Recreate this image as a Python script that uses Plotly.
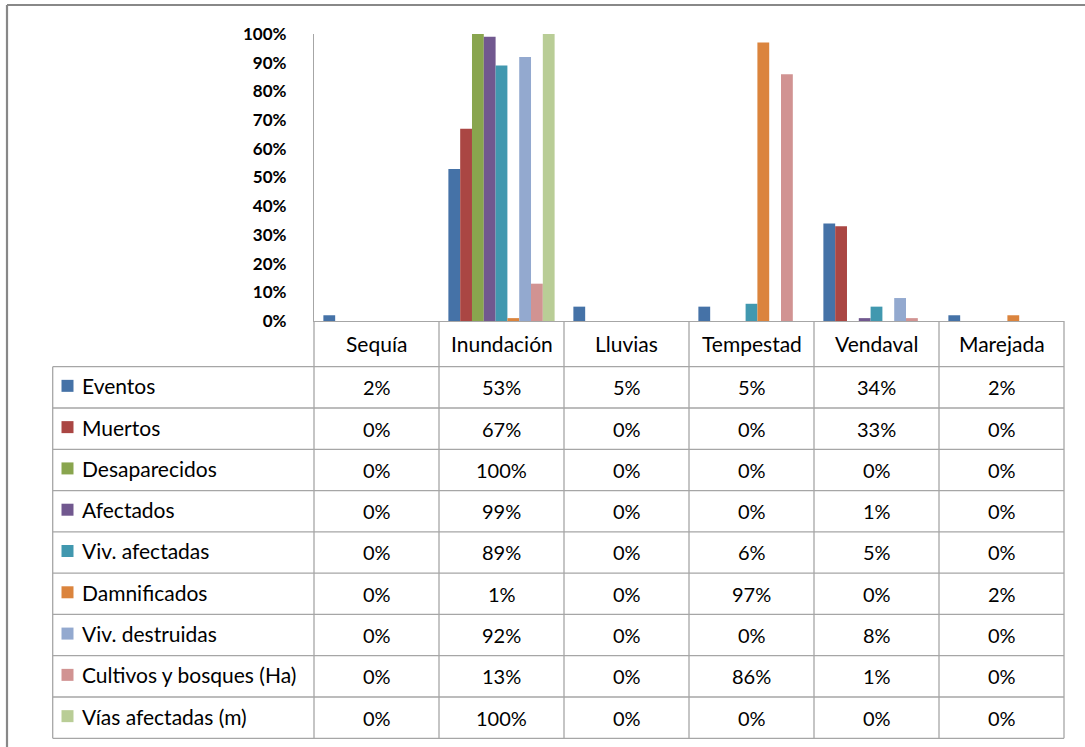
import plotly.graph_objects as go

# Categories (disaster types) and series (impact indicators), values in percent
categories = ["Sequía", "Inundación", "Lluvias", "Tempestad", "Vendaval", "Marejada"]
series_names = [
    "Eventos", "Muertos", "Desaparecidos", "Afectados", "Viv. afectadas",
    "Damnificados", "Viv. destruidas", "Cultivos y bosques (Ha)", "Vías afectadas (m)",
]
eventos       = [2, 53, 5, 5, 34, 2]
muertos       = [0, 67, 0, 0, 33, 0]
desaparecidos = [0, 100, 0, 0, 0, 0]
afectados     = [0, 99, 0, 0, 1, 0]
viv_afectadas = [0, 89, 0, 6, 5, 0]
damnificados  = [0, 1, 0, 97, 0, 2]
viv_destruidas = [0, 92, 0, 0, 8, 0]
cultivos      = [0, 13, 0, 86, 1, 0]
vias          = [0, 100, 0, 0, 0, 0]
series_values = [eventos, muertos, desaparecidos, afectados, viv_afectadas,
                 damnificados, viv_destruidas, cultivos, vias]
colors = ["#4572A7", "#AA4643", "#89A54E", "#71588F", "#4198AF",
          "#DB843D", "#93A9CF", "#D19392", "#B9CD96"]

W, H = 1085, 747
PL, PR, PT, PB = 314, 1064, 34, 321   # plot area in pixels
FONT = "Lato"
GRID = "#A6A6A6"
TXT = 20


def px_x(px):
    return (px - PL) / (PR - PL)


def px_y(py):
    return (PB - py) / (PB - PT)


fig = go.Figure()
for name, vals, col in zip(series_names, series_values, colors):
    fig.add_trace(go.Bar(x=categories, y=vals, name=name, marker_color=col,
                         marker_line_width=0, showlegend=False))

shapes = []
annotations = []

# data table geometry
header_top, header_bot = PB, 366.7
row_h = (738.3 - header_bot) / len(series_names)
table_left = 52.7
col_w = (PR - PL) / len(categories)

def line(x0, y0, x1, y1, color=GRID, width=1.3):
    shapes.append(dict(type="line", xref="paper", yref="paper",
                       x0=px_x(x0), y0=px_y(y0), x1=px_x(x1), y1=px_y(y1),
                       line=dict(color=color, width=width)))

# horizontal rules
for i in range(len(series_names) + 1):
    y = header_bot + i * row_h
    line(table_left, y, PR, y)
# vertical rules
line(table_left, header_bot, table_left, header_bot + len(series_names) * row_h)
for j in range(len(categories) + 1):
    x = PL + j * col_w
    line(x, header_top, x, header_bot + len(series_names) * row_h)

# header labels
for j, cat in enumerate(categories):
    annotations.append(dict(xref="x", yref="paper", x=cat,
                            y=px_y((header_top + header_bot) / 2),
                            text=cat, showarrow=False, xanchor="center", yanchor="middle",
                            font=dict(family=FONT, size=TXT + 1, color="#000000")))

# rows: legend key, series name, values
for i, (name, vals, col) in enumerate(zip(series_names, series_values, colors)):
    cy = header_bot + i * row_h + row_h / 2 - 1.5
    shapes.append(dict(type="rect", xref="paper", yref="paper",
                       x0=px_x(61.5), x1=px_x(73.5), y0=px_y(cy + 6), y1=px_y(cy - 6),
                       fillcolor=col, line=dict(width=0)))
    annotations.append(dict(xref="paper", yref="paper", x=px_x(80), y=px_y(cy),
                            text=name, showarrow=False, xanchor="left", yanchor="middle",
                            font=dict(family=FONT, size=TXT + 1, color="#000000")))
    for cat, v in zip(categories, vals):
        annotations.append(dict(xref="x", yref="paper", x=cat, y=px_y(cy + 1.5),
                                text=f"{v}%", showarrow=False, xanchor="center",
                                yanchor="middle",
                                font=dict(family=FONT, size=TXT, color="#000000")))

# outer chart frame
shapes.append(dict(type="line", xref="paper", yref="paper",
                   x0=px_x(7), x1=px_x(W), y0=px_y(5), y1=px_y(5),
                   line=dict(color="#888888", width=2.2)))
shapes.append(dict(type="line", xref="paper", yref="paper",
                   x0=px_x(7), x1=px_x(7), y0=px_y(5), y1=px_y(H),
                   line=dict(color="#888888", width=2.2)))

fig.update_layout(
    width=W, height=H,
    margin=dict(l=PL, r=W - PR, t=PT, b=H - PB, pad=0),
    paper_bgcolor="white", plot_bgcolor="white",
    barmode="group", bargap=0.15, bargroupgap=0,
    shapes=shapes, annotations=annotations,
    xaxis=dict(showticklabels=False, ticks="", showgrid=False, zeroline=False,
               showline=True, linecolor=GRID, linewidth=1.3, range=[-0.5, 5.5]),
    yaxis=dict(range=[0, 100], dtick=10, ticksuffix="%", showgrid=False,
               zeroline=False, showline=True, linecolor=GRID, linewidth=1.3,
               ticks="", ticklabelstandoff=23,
               tickfont=dict(family=FONT, size=17, color="#000000", weight="bold")),
)

fig.write_html("out.html")
